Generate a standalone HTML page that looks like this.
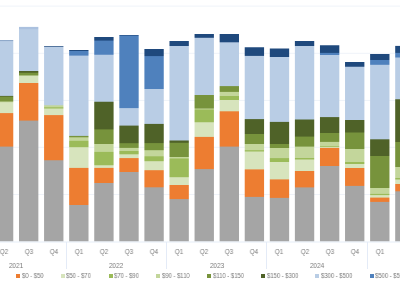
<!DOCTYPE html>
<html><head><meta charset="utf-8">
<style>
html,body{margin:0;padding:0;background:#fff;}
body{width:400px;height:283px;position:relative;overflow:hidden;font-family:"Liberation Sans",sans-serif;}
.s{position:absolute;}
.t{position:absolute;white-space:nowrap;color:#7a7a7a;font-size:7.5px;line-height:10px;width:40px;text-align:center;transform:scaleX(0.85);will-change:transform;}
.lg{position:absolute;white-space:nowrap;color:#7a7a7a;font-size:7px;line-height:10px;transform:scaleX(0.84);transform-origin:0 0;will-change:transform;}
.sq{position:absolute;width:4px;height:4px;}
</style></head><body>
<svg width="400" height="283" style="position:absolute;left:0;top:0">

<rect x="0" y="5.6" width="400" height="1" fill="#EFF3F9"/>
<rect x="0" y="52.8" width="400" height="1" fill="#EFF3F9"/>
<rect x="0" y="99.9" width="400" height="1" fill="#EFF3F9"/>
<rect x="0" y="146.8" width="400" height="1" fill="#EFF3F9"/>
<rect x="0" y="194.0" width="400" height="1" fill="#EFF3F9"/>
<rect x="-6.08" y="40" width="19.35" height="1" fill="#8FA9CA"/>
<rect x="-6.08" y="41" width="19.35" height="1" fill="#B5C9E2"/>
<rect x="-6.08" y="42" width="19.35" height="53" fill="#B9CDE5"/>
<rect x="-6.08" y="95" width="19.35" height="1" fill="#AEC2D2"/>
<rect x="-6.08" y="96" width="19.35" height="1" fill="#5F7630"/>
<rect x="-6.08" y="97" width="19.35" height="4" fill="#77933C"/>
<rect x="-6.08" y="101" width="19.35" height="1" fill="#9DB46C"/>
<rect x="-6.08" y="102" width="19.35" height="1" fill="#D1E0B3"/>
<rect x="-6.08" y="103" width="19.35" height="10" fill="#D7E4BD"/>
<rect x="-6.08" y="113" width="19.35" height="1" fill="#EB873F"/>
<rect x="-6.08" y="114" width="19.35" height="32" fill="#ED7D31"/>
<rect x="-6.08" y="146" width="19.35" height="1" fill="#D08D5F"/>
<rect x="-6.08" y="147" width="19.35" height="94" fill="#A5A5A5"/>
<rect x="-6.08" y="241" width="19.35" height="1" fill="#A5A5A5" fill-opacity="0.5"/>
<rect x="19.00" y="26" width="19.35" height="1" fill="#ABC1DF" fill-opacity="0.1"/>
<rect x="19.00" y="27" width="19.35" height="2" fill="#ABC1DF"/>
<rect x="19.00" y="29" width="19.35" height="1" fill="#B6CBE4"/>
<rect x="19.00" y="30" width="19.35" height="41" fill="#B9CDE5"/>
<rect x="19.00" y="71" width="19.35" height="1" fill="#4F6228"/>
<rect x="19.00" y="72" width="19.35" height="1" fill="#596E2D"/>
<rect x="19.00" y="73" width="19.35" height="2" fill="#77933C"/>
<rect x="19.00" y="75" width="19.35" height="1" fill="#A7BC7C"/>
<rect x="19.00" y="76" width="19.35" height="7" fill="#D7E4BD"/>
<rect x="19.00" y="83" width="19.35" height="37" fill="#ED7D31"/>
<rect x="19.00" y="120" width="19.35" height="1" fill="#D08D5F"/>
<rect x="19.00" y="121" width="19.35" height="120" fill="#A5A5A5"/>
<rect x="19.00" y="241" width="19.35" height="1" fill="#A5A5A5" fill-opacity="0.5"/>
<rect x="44.08" y="46" width="19.35" height="1" fill="#416694" fill-opacity="0.9"/>
<rect x="44.08" y="47" width="19.35" height="58" fill="#B9CDE5"/>
<rect x="44.08" y="105" width="19.35" height="1" fill="#C0D4AE"/>
<rect x="44.08" y="106" width="19.35" height="1" fill="#C3D69B"/>
<rect x="44.08" y="107" width="19.35" height="1" fill="#A7C36D"/>
<rect x="44.08" y="108" width="19.35" height="1" fill="#B9D08B"/>
<rect x="44.08" y="109" width="19.35" height="6" fill="#D7E4BD"/>
<rect x="44.08" y="115" width="19.35" height="1" fill="#EB873F"/>
<rect x="44.08" y="116" width="19.35" height="44" fill="#ED7D31"/>
<rect x="44.08" y="160" width="19.35" height="1" fill="#B79B88"/>
<rect x="44.08" y="161" width="19.35" height="80" fill="#A5A5A5"/>
<rect x="44.08" y="241" width="19.35" height="1" fill="#A5A5A5" fill-opacity="0.5"/>
<rect x="69.16" y="50" width="19.35" height="1" fill="#1F497D"/>
<rect x="69.16" y="51" width="19.35" height="4" fill="#4F81BD"/>
<rect x="69.16" y="55" width="19.35" height="1" fill="#799FCD"/>
<rect x="69.16" y="56" width="19.35" height="79" fill="#B9CDE5"/>
<rect x="69.16" y="135" width="19.35" height="1" fill="#B2C7D4"/>
<rect x="69.16" y="136" width="19.35" height="1" fill="#77933C"/>
<rect x="69.16" y="137" width="19.35" height="1" fill="#ACC27E"/>
<rect x="69.16" y="138" width="19.35" height="2" fill="#C3D69B"/>
<rect x="69.16" y="140" width="19.35" height="1" fill="#BBD18E"/>
<rect x="69.16" y="141" width="19.35" height="6" fill="#9BBB59"/>
<rect x="69.16" y="147" width="19.35" height="1" fill="#CBDCA9"/>
<rect x="69.16" y="148" width="19.35" height="19" fill="#D7E4BD"/>
<rect x="69.16" y="167" width="19.35" height="1" fill="#D9DAAF"/>
<rect x="69.16" y="168" width="19.35" height="37" fill="#ED7D31"/>
<rect x="69.16" y="205" width="19.35" height="36" fill="#A5A5A5"/>
<rect x="69.16" y="241" width="19.35" height="1" fill="#A5A5A5" fill-opacity="0.5"/>
<rect x="94.24" y="37" width="19.35" height="3" fill="#1F497D"/>
<rect x="94.24" y="40" width="19.35" height="1" fill="#325F97"/>
<rect x="94.24" y="41" width="19.35" height="13" fill="#4F81BD"/>
<rect x="94.24" y="54" width="19.35" height="1" fill="#6A94C7"/>
<rect x="94.24" y="55" width="19.35" height="46" fill="#B9CDE5"/>
<rect x="94.24" y="101" width="19.35" height="1" fill="#9EB2B6"/>
<rect x="94.24" y="102" width="19.35" height="27" fill="#4F6228"/>
<rect x="94.24" y="129" width="19.35" height="1" fill="#677F34"/>
<rect x="94.24" y="130" width="19.35" height="14" fill="#77933C"/>
<rect x="94.24" y="144" width="19.35" height="7" fill="#C3D69B"/>
<rect x="94.24" y="151" width="19.35" height="1" fill="#BFD394"/>
<rect x="94.24" y="152" width="19.35" height="13" fill="#9BBB59"/>
<rect x="94.24" y="165" width="19.35" height="1" fill="#C8DAA4"/>
<rect x="94.24" y="166" width="19.35" height="1" fill="#D7E4BD"/>
<rect x="94.24" y="167" width="19.35" height="1" fill="#D9DAAF"/>
<rect x="94.24" y="168" width="19.35" height="15" fill="#ED7D31"/>
<rect x="94.24" y="183" width="19.35" height="58" fill="#A5A5A5"/>
<rect x="94.24" y="241" width="19.35" height="1" fill="#A5A5A5" fill-opacity="0.5"/>
<rect x="119.32" y="35" width="19.35" height="1" fill="#325F97"/>
<rect x="119.32" y="36" width="19.35" height="72" fill="#4F81BD"/>
<rect x="119.32" y="108" width="19.35" height="1" fill="#AEC5E1"/>
<rect x="119.32" y="109" width="19.35" height="16" fill="#B9CDE5"/>
<rect x="119.32" y="125" width="19.35" height="1" fill="#8FA299"/>
<rect x="119.32" y="126" width="19.35" height="17" fill="#4F6228"/>
<rect x="119.32" y="143" width="19.35" height="1" fill="#6F8938"/>
<rect x="119.32" y="144" width="19.35" height="3" fill="#77933C"/>
<rect x="119.32" y="147" width="19.35" height="1" fill="#7F9A45"/>
<rect x="119.32" y="148" width="19.35" height="3" fill="#C3D69B"/>
<rect x="119.32" y="151" width="19.35" height="3" fill="#9BBB59"/>
<rect x="119.32" y="154" width="19.35" height="1" fill="#C5D89F"/>
<rect x="119.32" y="155" width="19.35" height="3" fill="#D7E4BD"/>
<rect x="119.32" y="158" width="19.35" height="1" fill="#EB873F"/>
<rect x="119.32" y="159" width="19.35" height="13" fill="#ED7D31"/>
<rect x="119.32" y="172" width="19.35" height="69" fill="#A5A5A5"/>
<rect x="119.32" y="241" width="19.35" height="1" fill="#A5A5A5" fill-opacity="0.5"/>
<rect x="144.40" y="49" width="19.35" height="7" fill="#1F497D"/>
<rect x="144.40" y="56" width="19.35" height="1" fill="#4A7BB7"/>
<rect x="144.40" y="57" width="19.35" height="32" fill="#4F81BD"/>
<rect x="144.40" y="89" width="19.35" height="34" fill="#B9CDE5"/>
<rect x="144.40" y="123" width="19.35" height="1" fill="#AEC2D2"/>
<rect x="144.40" y="124" width="19.35" height="19" fill="#4F6228"/>
<rect x="144.40" y="143" width="19.35" height="1" fill="#738E3A"/>
<rect x="144.40" y="144" width="19.35" height="6" fill="#77933C"/>
<rect x="144.40" y="150" width="19.35" height="1" fill="#B4C988"/>
<rect x="144.40" y="151" width="19.35" height="5" fill="#C3D69B"/>
<rect x="144.40" y="156" width="19.35" height="1" fill="#A7C36D"/>
<rect x="144.40" y="157" width="19.35" height="4" fill="#9BBB59"/>
<rect x="144.40" y="161" width="19.35" height="1" fill="#CBDCA9"/>
<rect x="144.40" y="162" width="19.35" height="8" fill="#D7E4BD"/>
<rect x="144.40" y="170" width="19.35" height="1" fill="#E9924D"/>
<rect x="144.40" y="171" width="19.35" height="16" fill="#ED7D31"/>
<rect x="144.40" y="187" width="19.35" height="1" fill="#BB9982"/>
<rect x="144.40" y="188" width="19.35" height="53" fill="#A5A5A5"/>
<rect x="144.40" y="241" width="19.35" height="1" fill="#A5A5A5" fill-opacity="0.5"/>
<rect x="169.48" y="41" width="19.35" height="5" fill="#1F497D"/>
<rect x="169.48" y="46" width="19.35" height="94" fill="#B9CDE5"/>
<rect x="169.48" y="140" width="19.35" height="1" fill="#849886"/>
<rect x="169.48" y="141" width="19.35" height="1" fill="#4F6228"/>
<rect x="169.48" y="142" width="19.35" height="1" fill="#576C2C"/>
<rect x="169.48" y="143" width="19.35" height="14" fill="#77933C"/>
<rect x="169.48" y="157" width="19.35" height="1" fill="#C3D69B"/>
<rect x="169.48" y="158" width="19.35" height="1" fill="#AFC87A"/>
<rect x="169.48" y="159" width="19.35" height="18" fill="#9BBB59"/>
<rect x="169.48" y="177" width="19.35" height="1" fill="#CBDCA9"/>
<rect x="169.48" y="178" width="19.35" height="7" fill="#D7E4BD"/>
<rect x="169.48" y="185" width="19.35" height="14" fill="#ED7D31"/>
<rect x="169.48" y="199" width="19.35" height="1" fill="#ACA199"/>
<rect x="169.48" y="200" width="19.35" height="41" fill="#A5A5A5"/>
<rect x="169.48" y="241" width="19.35" height="1" fill="#A5A5A5" fill-opacity="0.5"/>
<rect x="194.56" y="34" width="19.35" height="3" fill="#1F497D"/>
<rect x="194.56" y="37" width="19.35" height="1" fill="#3E6392"/>
<rect x="194.56" y="38" width="19.35" height="57" fill="#B9CDE5"/>
<rect x="194.56" y="95" width="19.35" height="13" fill="#77933C"/>
<rect x="194.56" y="108" width="19.35" height="1" fill="#9DB46C"/>
<rect x="194.56" y="109" width="19.35" height="1" fill="#AFC87A"/>
<rect x="194.56" y="110" width="19.35" height="12" fill="#9BBB59"/>
<rect x="194.56" y="122" width="19.35" height="1" fill="#C8DAA4"/>
<rect x="194.56" y="123" width="19.35" height="13" fill="#D7E4BD"/>
<rect x="194.56" y="136" width="19.35" height="1" fill="#D9DAAF"/>
<rect x="194.56" y="137" width="19.35" height="32" fill="#ED7D31"/>
<rect x="194.56" y="169" width="19.35" height="1" fill="#ACA199"/>
<rect x="194.56" y="170" width="19.35" height="71" fill="#A5A5A5"/>
<rect x="194.56" y="241" width="19.35" height="1" fill="#A5A5A5" fill-opacity="0.5"/>
<rect x="219.64" y="34" width="19.35" height="8" fill="#1F497D"/>
<rect x="219.64" y="42" width="19.35" height="1" fill="#8BA5C6"/>
<rect x="219.64" y="43" width="19.35" height="43" fill="#B9CDE5"/>
<rect x="219.64" y="86" width="19.35" height="1" fill="#7E994D"/>
<rect x="219.64" y="87" width="19.35" height="4" fill="#77933C"/>
<rect x="219.64" y="91" width="19.35" height="1" fill="#7F9A45"/>
<rect x="219.64" y="92" width="19.35" height="4" fill="#C3D69B"/>
<rect x="219.64" y="96" width="19.35" height="4" fill="#9BBB59"/>
<rect x="219.64" y="100" width="19.35" height="11" fill="#D7E4BD"/>
<rect x="219.64" y="111" width="19.35" height="1" fill="#E69C5B"/>
<rect x="219.64" y="112" width="19.35" height="34" fill="#ED7D31"/>
<rect x="219.64" y="146" width="19.35" height="1" fill="#D08D5F"/>
<rect x="219.64" y="147" width="19.35" height="94" fill="#A5A5A5"/>
<rect x="219.64" y="241" width="19.35" height="1" fill="#A5A5A5" fill-opacity="0.5"/>
<rect x="244.72" y="47" width="19.35" height="1" fill="#1F497D" fill-opacity="0.75"/>
<rect x="244.72" y="48" width="19.35" height="7" fill="#1F497D"/>
<rect x="244.72" y="55" width="19.35" height="1" fill="#2E5687"/>
<rect x="244.72" y="56" width="19.35" height="63" fill="#B9CDE5"/>
<rect x="244.72" y="119" width="19.35" height="1" fill="#5A6D3B"/>
<rect x="244.72" y="120" width="19.35" height="14" fill="#4F6228"/>
<rect x="244.72" y="134" width="19.35" height="10" fill="#77933C"/>
<rect x="244.72" y="144" width="19.35" height="6" fill="#C3D69B"/>
<rect x="244.72" y="150" width="19.35" height="1" fill="#A3C066"/>
<rect x="244.72" y="151" width="19.35" height="1" fill="#B9D08B"/>
<rect x="244.72" y="152" width="19.35" height="17" fill="#D7E4BD"/>
<rect x="244.72" y="169" width="19.35" height="1" fill="#E4A669"/>
<rect x="244.72" y="170" width="19.35" height="26" fill="#ED7D31"/>
<rect x="244.72" y="196" width="19.35" height="1" fill="#E6813D"/>
<rect x="244.72" y="197" width="19.35" height="44" fill="#A5A5A5"/>
<rect x="244.72" y="241" width="19.35" height="1" fill="#A5A5A5" fill-opacity="0.5"/>
<rect x="269.80" y="48" width="19.35" height="1" fill="#1F497D" fill-opacity="0.5"/>
<rect x="269.80" y="49" width="19.35" height="8" fill="#1F497D"/>
<rect x="269.80" y="57" width="19.35" height="64" fill="#B9CDE5"/>
<rect x="269.80" y="121" width="19.35" height="1" fill="#AEC2D2"/>
<rect x="269.80" y="122" width="19.35" height="22" fill="#4F6228"/>
<rect x="269.80" y="144" width="19.35" height="4" fill="#77933C"/>
<rect x="269.80" y="148" width="19.35" height="10" fill="#C3D69B"/>
<rect x="269.80" y="158" width="19.35" height="1" fill="#9FBE60"/>
<rect x="269.80" y="159" width="19.35" height="3" fill="#9BBB59"/>
<rect x="269.80" y="162" width="19.35" height="17" fill="#D7E4BD"/>
<rect x="269.80" y="179" width="19.35" height="1" fill="#E4A669"/>
<rect x="269.80" y="180" width="19.35" height="17" fill="#ED7D31"/>
<rect x="269.80" y="197" width="19.35" height="1" fill="#E6813D"/>
<rect x="269.80" y="198" width="19.35" height="43" fill="#A5A5A5"/>
<rect x="269.80" y="241" width="19.35" height="1" fill="#A5A5A5" fill-opacity="0.5"/>
<rect x="294.88" y="41" width="19.35" height="5" fill="#1F497D"/>
<rect x="294.88" y="46" width="19.35" height="73" fill="#B9CDE5"/>
<rect x="294.88" y="119" width="19.35" height="1" fill="#849886"/>
<rect x="294.88" y="120" width="19.35" height="16" fill="#4F6228"/>
<rect x="294.88" y="136" width="19.35" height="1" fill="#5F7630"/>
<rect x="294.88" y="137" width="19.35" height="9" fill="#77933C"/>
<rect x="294.88" y="146" width="19.35" height="1" fill="#95AE62"/>
<rect x="294.88" y="147" width="19.35" height="11" fill="#C3D69B"/>
<rect x="294.88" y="158" width="19.35" height="1" fill="#9BBB59"/>
<rect x="294.88" y="159" width="19.35" height="1" fill="#B9D08B"/>
<rect x="294.88" y="160" width="19.35" height="11" fill="#D7E4BD"/>
<rect x="294.88" y="171" width="19.35" height="16" fill="#ED7D31"/>
<rect x="294.88" y="187" width="19.35" height="1" fill="#C29577"/>
<rect x="294.88" y="188" width="19.35" height="53" fill="#A5A5A5"/>
<rect x="294.88" y="241" width="19.35" height="1" fill="#A5A5A5" fill-opacity="0.5"/>
<rect x="319.96" y="45" width="19.35" height="1" fill="#1F497D" fill-opacity="0.75"/>
<rect x="319.96" y="46" width="19.35" height="6" fill="#1F497D"/>
<rect x="319.96" y="52" width="19.35" height="1" fill="#244F83"/>
<rect x="319.96" y="53" width="19.35" height="2" fill="#4F81BD"/>
<rect x="319.96" y="55" width="19.35" height="62" fill="#B9CDE5"/>
<rect x="319.96" y="117" width="19.35" height="1" fill="#5A6D3B"/>
<rect x="319.96" y="118" width="19.35" height="15" fill="#4F6228"/>
<rect x="319.96" y="133" width="19.35" height="8" fill="#77933C"/>
<rect x="319.96" y="141" width="19.35" height="1" fill="#7F9A45"/>
<rect x="319.96" y="142" width="19.35" height="4" fill="#C3D69B"/>
<rect x="319.96" y="146" width="19.35" height="1" fill="#A7C36D"/>
<rect x="319.96" y="147" width="19.35" height="1" fill="#D9DAAF"/>
<rect x="319.96" y="148" width="19.35" height="18" fill="#ED7D31"/>
<rect x="319.96" y="166" width="19.35" height="75" fill="#A5A5A5"/>
<rect x="319.96" y="241" width="19.35" height="1" fill="#A5A5A5" fill-opacity="0.5"/>
<rect x="345.04" y="62" width="19.35" height="4" fill="#1F497D"/>
<rect x="345.04" y="66" width="19.35" height="1" fill="#466A97"/>
<rect x="345.04" y="67" width="19.35" height="53" fill="#B9CDE5"/>
<rect x="345.04" y="120" width="19.35" height="12" fill="#4F6228"/>
<rect x="345.04" y="132" width="19.35" height="1" fill="#637A32"/>
<rect x="345.04" y="133" width="19.35" height="16" fill="#77933C"/>
<rect x="345.04" y="149" width="19.35" height="13" fill="#C3D69B"/>
<rect x="345.04" y="162" width="19.35" height="2" fill="#9BBB59"/>
<rect x="345.04" y="164" width="19.35" height="4" fill="#D7E4BD"/>
<rect x="345.04" y="168" width="19.35" height="17" fill="#ED7D31"/>
<rect x="345.04" y="185" width="19.35" height="1" fill="#E6813D"/>
<rect x="345.04" y="186" width="19.35" height="55" fill="#A5A5A5"/>
<rect x="345.04" y="241" width="19.35" height="1" fill="#A5A5A5" fill-opacity="0.5"/>
<rect x="370.12" y="54" width="19.35" height="6" fill="#1F497D"/>
<rect x="370.12" y="60" width="19.35" height="4" fill="#4F81BD"/>
<rect x="370.12" y="64" width="19.35" height="1" fill="#6490C5"/>
<rect x="370.12" y="65" width="19.35" height="74" fill="#B9CDE5"/>
<rect x="370.12" y="139" width="19.35" height="1" fill="#6F8261"/>
<rect x="370.12" y="140" width="19.35" height="16" fill="#4F6228"/>
<rect x="370.12" y="156" width="19.35" height="32" fill="#77933C"/>
<rect x="370.12" y="188" width="19.35" height="5" fill="#C3D69B"/>
<rect x="370.12" y="193" width="19.35" height="1" fill="#BFD394"/>
<rect x="370.12" y="194" width="19.35" height="1" fill="#9BBB59"/>
<rect x="370.12" y="195" width="19.35" height="1" fill="#D1E0B3"/>
<rect x="370.12" y="196" width="19.35" height="1" fill="#D7E4BD"/>
<rect x="370.12" y="197" width="19.35" height="1" fill="#E0BB85"/>
<rect x="370.12" y="198" width="19.35" height="3" fill="#ED7D31"/>
<rect x="370.12" y="201" width="19.35" height="1" fill="#E6813D"/>
<rect x="370.12" y="202" width="19.35" height="39" fill="#A5A5A5"/>
<rect x="370.12" y="241" width="19.35" height="1" fill="#A5A5A5" fill-opacity="0.5"/>
<rect x="395.20" y="45" width="19.35" height="1" fill="#1F497D" fill-opacity="0.1"/>
<rect x="395.20" y="46" width="19.35" height="6" fill="#1F497D"/>
<rect x="395.20" y="52" width="19.35" height="1" fill="#244F83"/>
<rect x="395.20" y="53" width="19.35" height="4" fill="#4F81BD"/>
<rect x="395.20" y="57" width="19.35" height="1" fill="#84A7D1"/>
<rect x="395.20" y="58" width="19.35" height="41" fill="#B9CDE5"/>
<rect x="395.20" y="99" width="19.35" height="1" fill="#6A7D57"/>
<rect x="395.20" y="100" width="19.35" height="42" fill="#4F6228"/>
<rect x="395.20" y="142" width="19.35" height="25" fill="#77933C"/>
<rect x="395.20" y="167" width="19.35" height="11" fill="#C3D69B"/>
<rect x="395.20" y="178" width="19.35" height="1" fill="#9BBB59"/>
<rect x="395.20" y="179" width="19.35" height="1" fill="#B9D08B"/>
<rect x="395.20" y="180" width="19.35" height="4" fill="#D7E4BD"/>
<rect x="395.20" y="184" width="19.35" height="7" fill="#ED7D31"/>
<rect x="395.20" y="191" width="19.35" height="1" fill="#BB9982"/>
<rect x="395.20" y="192" width="19.35" height="49" fill="#A5A5A5"/>
<rect x="395.20" y="241" width="19.35" height="1" fill="#A5A5A5" fill-opacity="0.5"/>
<rect x="0" y="241.5" width="400" height="1" fill="#E6EDF7"/>
<rect x="66" y="242" width="1" height="27" fill="#E4EBF7"/>
<rect x="166" y="242" width="1" height="27" fill="#E4EBF7"/>
<rect x="266" y="242" width="1" height="27" fill="#E4EBF7"/>
<rect x="367" y="242" width="1" height="27" fill="#E4EBF7"/>
</svg>
<div class="t" style="left:-16.41px;top:246.7px">Q2</div>
<div class="t" style="left:8.68px;top:246.7px">Q3</div>
<div class="t" style="left:33.75px;top:246.7px">Q4</div>
<div class="t" style="left:58.83px;top:246.7px">Q1</div>
<div class="t" style="left:83.91px;top:246.7px">Q2</div>
<div class="t" style="left:109.00px;top:246.7px">Q3</div>
<div class="t" style="left:134.07px;top:246.7px">Q4</div>
<div class="t" style="left:159.16px;top:246.7px">Q1</div>
<div class="t" style="left:184.23px;top:246.7px">Q2</div>
<div class="t" style="left:209.31px;top:246.7px">Q3</div>
<div class="t" style="left:234.39px;top:246.7px">Q4</div>
<div class="t" style="left:259.48px;top:246.7px">Q1</div>
<div class="t" style="left:284.56px;top:246.7px">Q2</div>
<div class="t" style="left:309.63px;top:246.7px">Q3</div>
<div class="t" style="left:334.72px;top:246.7px">Q4</div>
<div class="t" style="left:359.80px;top:246.7px">Q1</div>
<div class="t" style="left:384.88px;top:246.7px">Q2</div>
<div class="t" style="left:-4.10px;top:260.8px">2021</div>
<div class="t" style="left:95.90px;top:260.8px">2022</div>
<div class="t" style="left:196.50px;top:260.8px">2023</div>
<div class="t" style="left:297.00px;top:260.8px">2024</div>
<div class="sq" style="left:16px;top:274px;background:#ED7D31"></div>
<div class="lg" style="left:21.60px;top:271px">$0 - $50</div>
<div class="sq" style="left:60.6px;top:274px;background:#D7E4BD"></div>
<div class="lg" style="left:66.20px;top:271px">$50 - $70</div>
<div class="sq" style="left:108.5px;top:274px;background:#9BBB59"></div>
<div class="lg" style="left:114.10px;top:271px">$70 - $90</div>
<div class="sq" style="left:156.25px;top:274px;background:#C3D69B"></div>
<div class="lg" style="left:161.85px;top:271px">$90 - $110</div>
<div class="sq" style="left:207.1px;top:274px;background:#77933C"></div>
<div class="lg" style="left:212.70px;top:271px">$110 - $150</div>
<div class="sq" style="left:261.25px;top:274px;background:#4F6228"></div>
<div class="lg" style="left:266.85px;top:271px">$150 - $300</div>
<div class="sq" style="left:315.4px;top:274px;background:#B9CDE5"></div>
<div class="lg" style="left:321.00px;top:271px">$300 - $500</div>
<div class="sq" style="left:369.6px;top:274px;background:#4F81BD"></div>
<div class="lg" style="left:375.20px;top:271px">$500 - $5000</div>
</body></html>
